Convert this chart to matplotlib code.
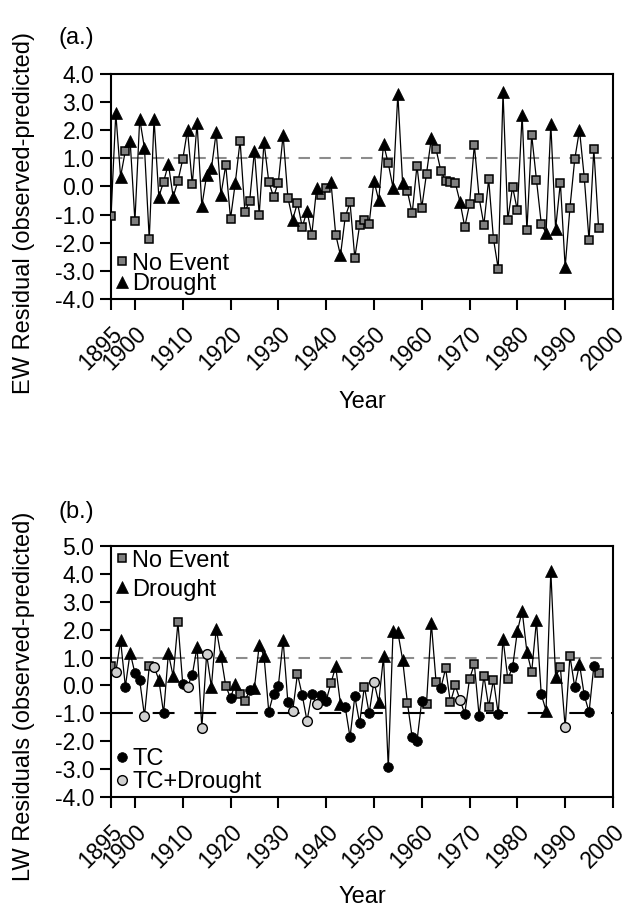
import numpy as np
import matplotlib
matplotlib.use('Agg')
import matplotlib.pyplot as plt
from matplotlib.lines import Line2D

plt.rcParams['font.family'] = ['Liberation Sans', 'DejaVu Sans']

years = np.arange(1895, 1998)

# (a.) earlywood residuals, 1895-1997
ew_resid = [-1.05, 2.60, 0.35, 1.27, 1.63, -1.23, 2.40, 1.36, -1.88, 2.40,
            -0.37, 0.17, 0.79, -0.37, 0.20, 0.96, 2.01, 0.07, 2.25, -0.70,
            0.40, 0.64, 1.92, -0.29, 0.76, -1.14, 0.13, 1.63, -0.90, -0.52,
            1.27, -1.00, 1.57, 0.17, -0.37, 0.14, 1.83, -0.40, -1.18, -0.58,
            -1.44, -0.88, -1.71, -0.07, -0.31, -0.04, 0.17, -1.71, -2.45, -1.08,
            -0.57, -2.54, -1.38, -1.18, -1.32, 0.20, -0.49, 1.51, 0.82, -0.05,
            3.29, 0.11, -0.17, -0.96, 0.74, -0.76, 0.46, 1.71, 1.32, 0.55,
            0.20, 0.17, 0.14, -0.55, -1.44, -0.63, 1.48, -0.40, -1.36, 0.26,
            -1.86, -2.93, 3.35, -1.18, -0.01, -0.85, 2.55, -1.56, 1.83, 0.23,
            -1.32, -1.65, 2.21, -1.50, 0.14, -2.87, -0.76, 0.96, 2.01, 0.31,
            -1.92, 1.32, -1.48]
ew_event = ('N D D N D N D D N D '
            'D N D D N N D N D D '
            'D D D D N N D N N N '
            'D N D N N N D N D N '
            'N D N D N N D N D N '
            'N N N N N D D D N D '
            'D D N N N N N D N N '
            'N N N D N N N N N N '
            'N N D N N N D N N N '
            'N D D D N D N N D N '
            'N N N').split()

# (b.) latewood residuals, 1895-1997
lw_resid = [0.68, 0.47, 1.62, -0.04, 1.18, 0.44, 0.18, -1.09, 0.68, 0.67,
            0.21, -1.00, 1.15, 0.33, 2.26, 0.06, -0.04, 0.38, 1.38, -1.51,
            1.12, -0.05, 2.04, 1.06, -0.02, -0.44, 0.06, -0.29, -0.55, -0.18,
            -0.09, 1.45, 1.06, -0.94, -0.29, -0.02, 1.62, -0.61, -0.92, 0.41,
            -0.35, -1.27, -0.32, -0.67, -0.35, -0.55, 0.08, 0.68, -0.67, -0.79,
            -1.86, -0.39, -1.35, -0.04, -1.00, 0.14, -0.61, 1.04, -2.94, 1.96,
            1.91, 0.92, -0.62, -1.86, -2.00, -0.56, -0.65, 2.24, 0.12, -0.09,
            0.61, -0.61, 0.00, -0.51, -1.02, 0.24, 0.76, -1.09, 0.35, -0.76,
            0.20, -1.02, 1.68, 0.24, 0.65, 1.94, 2.68, 1.20, 0.49, 2.33,
            -0.32, -0.90, 4.10, 0.32, 0.65, -1.49, 1.06, -0.06, 0.76, -0.35,
            -0.96, 0.70, 0.45]
lw_event = ('N TD D T D T T TD N TD '
            'D T D D N T TD T D TD '
            'TD D D D N T D N N T '
            'D D D T T T D T TD N '
            'T TD T TD T T N D D T '
            'T T T N T TD D D T D '
            'D D N T T T N D N T '
            'N N N TD T N N T N N '
            'N T D N T D D D N D '
            'T D D D N TD N T D T '
            'T T N').split()

xticks = [1895, 1900, 1910, 1920, 1930, 1940, 1950, 1960, 1970, 1980, 1990, 2000]

styles = {
    'N': dict(marker='s', ms=5.8, mfc='#7f7f7f', mec='k', mew=1.1),
    'D': dict(marker='^', ms=8.5, mfc='k', mec='k', mew=0.5),
    'T': dict(marker='o', ms=7, mfc='k', mec='k', mew=0.5),
    'TD': dict(marker='o', ms=7, mfc='#d0d0d0', mec='k', mew=1.0),
}
names = {'N': 'No Event', 'D': 'Drought', 'T': 'TC', 'TD': 'TC+Drought'}


def handle(key):
    return Line2D([], [], ls='none', label=names[key], **styles[key])


def draw(ax, resid, event, ylo, yhi, ylabel, label_y):
    resid = np.array(resid)
    event = np.array(event)
    ax.plot(years, resid, color='k', lw=0.9, zorder=2)
    for key, st in styles.items():
        m = event == key
        if m.any():
            ax.plot(years[m], resid[m], ls='none', zorder=3, **st)
    ax.axhline(1.0, color='#8c8c8c', lw=1.5, ls=(0, (5.5, 4.5)), zorder=1)

    ax.set_xlim(1895, 2000)
    ax.set_ylim(ylo, yhi)
    ax.set_xticks(xticks)
    ax.set_xticklabels([str(t) for t in xticks], rotation=45, ha='right',
                       rotation_mode='anchor')
    yt = np.arange(ylo, yhi + 0.5, 1.0)
    ax.set_yticks(yt)
    ax.set_yticklabels([f'{v:.1f}' for v in yt])
    ax.tick_params(direction='out', length=8, width=1.5, labelsize=16.5)
    ax.tick_params(axis='x', pad=9)
    ax.tick_params(axis='y', pad=4)
    for s in ax.spines.values():
        s.set_linewidth(1.5)
    ax.set_ylabel(ylabel, fontsize=17)
    ax.yaxis.set_label_coords(-0.152, label_y)
    ax.set_xlabel('Year', fontsize=17)


fig = plt.figure(figsize=(6.29, 9.14), dpi=100)

ax1 = fig.add_axes([0.1765, 0.6729, 0.798, 0.2462])
draw(ax1, ew_resid, ew_event, -4.0, 4.0, 'EW Residual (observed-predicted)', 0.38)
ax1.xaxis.set_label_coords(0.5, -0.41)
ax1.legend(handles=[handle('N'), handle('D')], loc='lower left', frameon=False,
           fontsize=17, handlelength=0.6, handletextpad=0.15,
           borderaxespad=0.05, borderpad=0.1, labelspacing=-0.05)

ax2 = fig.add_axes([0.1765, 0.128, 0.798, 0.2746])
draw(ax2, lw_resid, lw_event, -4.0, 5.0, 'LW Residuals (observed-predicted)', 0.40)
ax2.axhline(-1.0, color='k', lw=1.5, ls=(0, (10.5, 9.5)), zorder=1)
ax2.xaxis.set_label_coords(0.5, -0.355)
top = ax2.legend(handles=[handle('N'), handle('D')], loc='upper left',
                 frameon=False, fontsize=17, handlelength=0.6,
                 handletextpad=0.15, borderaxespad=0.05, borderpad=0.1,
                 labelspacing=0.3)
ax2.add_artist(top)
ax2.legend(handles=[handle('T'), handle('TD')], loc='lower left', frameon=False,
           fontsize=17, handlelength=0.6, handletextpad=0.15,
           borderaxespad=0.05, borderpad=0.1, labelspacing=0.05)

fig.text(58 / 629, 1 - 38 / 914, '(a.)', fontsize=17, va='center')
fig.text(58 / 629, 1 - 512 / 914, '(b.)', fontsize=17, va='center')

fig.savefig('out.png', dpi=100)
